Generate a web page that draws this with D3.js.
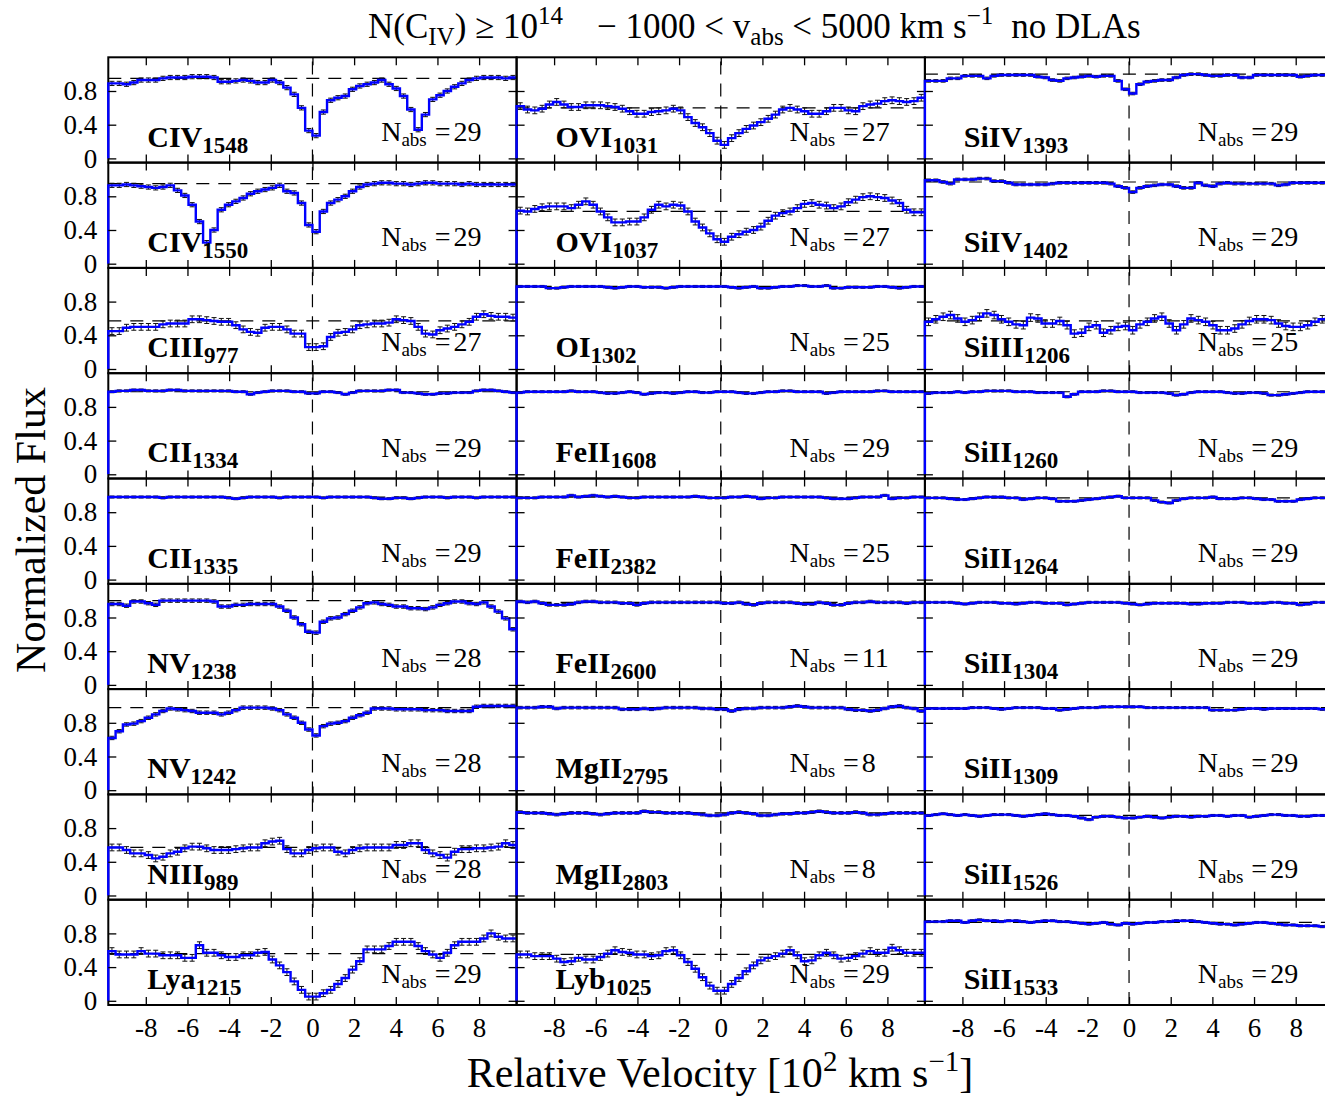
<!DOCTYPE html>
<html>
<head>
<meta charset="utf-8">
<title>Composite absorption profiles</title>
<script src="https://cdn.jsdelivr.net/npm/d3@7/dist/d3.min.js"></script>
<style>
  html, body { margin: 0; padding: 0; background: #ffffff; }
  svg { display: block; }
  text { font-family: "Liberation Serif", "Times New Roman", serif; fill: #000; }
</style>
</head>
<body>
<svg id="chart" width="1325" height="1097"></svg>
<script>
// Velocity bin edges of the stacked spectra, in units of 100 km/s (35 km/s bins)
const binEdges = [-9.8,-9.45,-9.1,-8.75,-8.4,-8.05,-7.7,-7.35,-7.0,-6.65,-6.3,-5.95,-5.6,-5.25,-4.9,-4.55,-4.2,-3.85,-3.5,-3.15,-2.8,-2.45,-2.1,-1.75,-1.4,-1.05,-0.7,-0.35,0,0.35,0.7,1.05,1.4,1.75,2.1,2.45,2.8,3.15,3.5,3.85,4.2,4.55,4.9,5.25,5.6,5.95,6.3,6.65,7.0,7.35,7.7,8.05,8.4,8.75,9.1,9.45,9.8];

// Mean normalised flux in each of the 56 bins, one array per transition
const c4_1548 = [0.89,0.89,0.88,0.90,0.93,0.93,0.93,0.95,0.96,0.96, 0.96,0.97,0.97,0.97,0.96,0.91,0.91,0.92,0.93,0.92, 0.90,0.90,0.93,0.90,0.84,0.76,0.60,0.33,0.27,0.55, 0.69,0.72,0.74,0.82,0.86,0.88,0.90,0.93,0.88,0.83, 0.74,0.58,0.34,0.52,0.70,0.75,0.80,0.85,0.89,0.93, 0.95,0.96,0.96,0.96,0.95,0.96];
const c4_1550 = [0.93,0.93,0.94,0.93,0.92,0.91,0.90,0.91,0.93,0.87, 0.81,0.70,0.50,0.25,0.40,0.64,0.70,0.74,0.78,0.83, 0.86,0.88,0.90,0.93,0.86,0.84,0.72,0.46,0.38,0.62, 0.72,0.76,0.80,0.86,0.91,0.94,0.95,0.96,0.96,0.95, 0.95,0.94,0.95,0.96,0.96,0.95,0.95,0.95,0.94,0.95, 0.94,0.94,0.94,0.94,0.94,0.94];
const c3_977 = [0.45,0.45,0.49,0.50,0.50,0.50,0.50,0.53,0.54,0.54, 0.54,0.59,0.59,0.58,0.57,0.56,0.56,0.52,0.47,0.44, 0.43,0.49,0.50,0.50,0.47,0.42,0.42,0.26,0.26,0.27, 0.38,0.43,0.44,0.47,0.52,0.53,0.54,0.54,0.55,0.59, 0.58,0.57,0.50,0.42,0.41,0.46,0.48,0.50,0.53,0.56, 0.62,0.65,0.63,0.62,0.62,0.61];
const c2_1334 = [0.98,0.99,0.99,1.00,1.00,0.99,0.99,0.99,1.00,1.00, 0.99,0.99,0.99,0.99,0.99,0.99,0.99,0.98,0.98,0.95, 0.97,0.98,0.99,0.99,0.99,0.98,0.98,0.96,0.96,0.98, 0.98,0.97,0.95,0.97,0.99,0.99,0.99,0.99,1.00,1.00, 0.97,0.97,0.96,0.95,0.95,0.96,0.96,0.97,0.97,0.97, 0.99,1.00,1.00,0.99,0.98,0.97];
const c2_1335 = [0.98,0.98,0.98,0.98,0.98,0.98,0.98,0.97,0.98,0.98, 0.98,0.98,0.98,0.98,0.98,0.98,0.97,0.96,0.97,0.98, 0.98,0.98,0.98,0.97,0.98,0.98,0.98,0.98,0.98,0.97, 0.98,0.98,0.98,0.98,0.98,0.98,0.97,0.96,0.96,0.97, 0.97,0.96,0.97,0.98,0.98,0.98,0.97,0.98,0.98,0.98, 0.97,0.98,0.98,0.98,0.98,0.98];
const n5_1238 = [0.96,0.96,0.94,0.99,0.99,0.97,0.95,1.00,1.00,1.00, 1.00,1.00,1.00,1.00,0.99,0.93,0.93,0.95,0.95,0.96, 0.96,0.96,0.96,0.93,0.88,0.80,0.72,0.63,0.62,0.75, 0.79,0.80,0.84,0.88,0.92,0.97,0.98,0.96,0.95,0.93, 0.93,0.91,0.91,0.90,0.92,0.95,0.97,0.99,0.99,0.97, 0.96,0.98,0.93,0.87,0.79,0.66];
const n5_1242 = [0.62,0.70,0.78,0.79,0.82,0.86,0.90,0.94,0.97,0.96, 0.95,0.94,0.92,0.92,0.92,0.90,0.92,0.95,0.98,0.98, 0.98,0.98,0.97,0.95,0.90,0.86,0.80,0.72,0.65,0.76, 0.79,0.80,0.82,0.86,0.89,0.92,0.97,0.97,0.97,0.96, 0.96,0.96,0.96,0.95,0.95,0.95,0.94,0.94,0.94,0.94, 0.99,1.00,1.00,1.00,1.00,1.00];
const n3_989 = [0.57,0.57,0.54,0.50,0.50,0.48,0.44,0.46,0.50,0.52, 0.56,0.58,0.58,0.56,0.54,0.54,0.54,0.55,0.56,0.57, 0.57,0.62,0.64,0.65,0.55,0.50,0.50,0.54,0.56,0.57, 0.57,0.52,0.50,0.54,0.56,0.57,0.57,0.57,0.57,0.60, 0.60,0.62,0.62,0.54,0.50,0.48,0.45,0.52,0.55,0.55, 0.56,0.56,0.57,0.58,0.62,0.60];
const lya_1215 = [0.59,0.55,0.55,0.55,0.59,0.56,0.56,0.54,0.54,0.54, 0.51,0.51,0.66,0.57,0.57,0.54,0.52,0.52,0.54,0.54, 0.57,0.58,0.49,0.42,0.34,0.23,0.13,0.05,0.05,0.09, 0.13,0.20,0.27,0.37,0.47,0.61,0.61,0.61,0.65,0.70, 0.70,0.70,0.65,0.59,0.55,0.51,0.57,0.66,0.70,0.70, 0.70,0.74,0.80,0.76,0.74,0.74];
const o6_1031 = [0.62,0.58,0.57,0.59,0.64,0.67,0.64,0.61,0.61,0.63, 0.63,0.63,0.62,0.61,0.59,0.56,0.53,0.53,0.55,0.56, 0.57,0.59,0.57,0.49,0.42,0.37,0.30,0.21,0.16,0.24, 0.30,0.35,0.39,0.43,0.47,0.52,0.58,0.60,0.58,0.56, 0.53,0.53,0.56,0.60,0.60,0.57,0.56,0.62,0.64,0.65, 0.68,0.69,0.68,0.67,0.68,0.72];
const o6_1037 = [0.63,0.62,0.65,0.67,0.68,0.68,0.68,0.66,0.70,0.74, 0.70,0.62,0.55,0.49,0.49,0.50,0.50,0.55,0.64,0.70, 0.68,0.70,0.69,0.62,0.50,0.43,0.36,0.29,0.26,0.32, 0.35,0.38,0.40,0.44,0.51,0.57,0.60,0.62,0.66,0.71, 0.72,0.70,0.69,0.66,0.68,0.73,0.76,0.79,0.80,0.79, 0.78,0.75,0.72,0.64,0.61,0.61];
const o1_1302 = [0.98,0.98,0.98,0.98,0.96,0.96,0.97,0.98,0.98,0.98, 0.98,0.98,0.97,0.96,0.97,0.98,0.98,0.97,0.97,0.97, 0.96,0.97,0.98,0.98,0.98,0.98,0.98,0.98,0.98,0.97, 0.96,0.97,0.98,0.96,0.96,0.97,0.98,0.98,0.99,0.99, 0.98,0.98,0.99,0.96,0.96,0.97,0.97,0.97,0.97,0.98, 0.98,0.97,0.96,0.97,0.98,0.98];
const fe2_1608 = [0.97,0.98,0.98,0.98,0.98,0.98,0.98,0.99,0.98,0.98, 0.98,0.97,0.96,0.96,0.97,0.98,0.97,0.95,0.96,0.97, 0.97,0.96,0.97,0.98,0.98,0.97,0.97,0.98,0.98,0.98, 0.97,0.96,0.96,0.97,0.98,0.98,0.99,0.99,0.98,0.98, 0.98,0.98,0.96,0.97,0.98,0.98,0.98,0.98,0.98,0.99, 0.99,0.98,0.98,0.98,0.98,0.98];
const fe2_2382 = [0.97,0.97,0.97,0.98,0.98,0.98,0.98,1.00,0.98,0.99, 1.00,0.99,0.98,0.99,0.98,0.97,0.97,0.98,0.98,0.98, 0.98,0.98,0.98,0.98,0.99,0.98,0.97,0.97,0.97,0.98, 0.98,0.99,0.98,0.96,0.97,0.97,0.98,0.98,0.98,0.98, 0.98,0.98,0.97,0.96,0.96,0.96,0.97,0.98,0.98,0.98, 1.00,0.96,0.97,0.97,0.98,0.98];
const fe2_2600 = [0.99,0.98,0.99,0.97,0.95,0.95,0.95,0.96,0.98,0.99, 0.99,0.98,0.98,0.98,0.97,0.97,0.95,0.97,0.98,0.98, 0.98,0.98,0.98,0.98,0.98,0.98,0.98,0.98,0.97,0.97, 0.98,0.96,0.95,0.97,0.98,0.98,0.98,0.98,0.97,0.96, 0.96,0.98,0.97,0.95,0.95,0.97,0.98,0.98,0.99,0.98, 0.98,0.98,0.98,0.97,0.98,0.98];
const mg2_2795 = [0.98,0.98,0.98,0.99,0.99,0.97,0.98,0.98,0.98,0.98, 0.98,0.98,0.98,0.98,0.96,0.96,0.96,0.97,0.96,0.97, 0.98,0.98,0.98,0.98,0.98,0.97,0.97,0.96,0.96,0.94, 0.96,0.97,0.97,0.98,0.98,0.98,0.98,0.99,1.00,0.99, 0.98,0.98,0.98,0.98,0.98,0.96,0.95,0.95,0.94,0.95, 0.97,0.99,1.00,0.98,0.97,0.94];
const mg2_2803 = [0.99,0.98,0.98,0.98,0.97,0.96,0.97,0.98,0.98,0.98, 0.97,0.96,0.97,0.98,0.98,0.98,0.98,1.00,0.99,0.99, 0.98,0.98,0.98,0.98,0.97,0.96,0.95,0.95,0.96,0.98, 0.99,0.98,0.97,0.95,0.95,0.96,0.97,0.97,0.98,0.98, 0.99,1.00,0.99,0.98,0.98,0.98,0.99,0.98,0.96,0.96, 0.97,0.98,0.98,0.98,0.98,0.98];
const lyb_1025 = [0.55,0.55,0.53,0.53,0.53,0.50,0.46,0.47,0.51,0.49, 0.49,0.52,0.56,0.60,0.58,0.57,0.55,0.55,0.53,0.54, 0.59,0.60,0.54,0.46,0.38,0.28,0.18,0.12,0.12,0.20, 0.27,0.35,0.42,0.48,0.51,0.53,0.56,0.60,0.54,0.47, 0.48,0.54,0.57,0.54,0.50,0.51,0.53,0.56,0.59,0.57, 0.57,0.63,0.60,0.57,0.57,0.57];
const si4_1393 = [0.92,0.92,0.92,0.95,0.95,0.98,0.98,0.98,0.95,0.98, 0.99,0.99,0.99,0.99,0.99,0.97,0.96,0.93,0.92,0.95, 0.96,0.97,0.98,0.97,0.98,0.98,0.92,0.82,0.77,0.88, 0.91,0.92,0.93,0.93,0.96,0.99,1.00,1.00,0.99,0.98, 0.98,0.99,0.99,0.96,0.96,0.99,0.99,0.99,0.99,0.99, 0.99,0.97,0.98,0.99,0.99,0.99];
const si4_1402 = [0.99,0.99,0.97,0.95,1.00,1.00,1.00,1.01,1.01,0.98, 0.98,0.96,0.94,0.94,0.94,0.94,0.94,0.95,0.96,0.96, 0.96,0.96,0.96,0.96,0.96,0.95,0.92,0.90,0.85,0.90, 0.92,0.93,0.94,0.94,0.92,0.90,0.90,0.96,0.93,0.92, 0.95,0.96,0.95,0.95,0.95,0.95,0.95,0.95,0.93,0.94, 0.96,0.96,0.96,0.96,0.96,0.96];
const si3_1206 = [0.56,0.59,0.62,0.64,0.60,0.56,0.58,0.62,0.66,0.64, 0.59,0.56,0.53,0.52,0.61,0.60,0.54,0.54,0.57,0.52, 0.42,0.43,0.50,0.52,0.43,0.46,0.50,0.51,0.46,0.53, 0.56,0.60,0.62,0.54,0.46,0.53,0.60,0.58,0.56,0.52, 0.46,0.46,0.48,0.53,0.57,0.59,0.59,0.58,0.54,0.51, 0.50,0.50,0.52,0.56,0.59,0.60];
const si2_1260 = [0.96,0.97,0.97,0.97,0.98,0.97,0.98,0.98,0.99,0.99, 0.99,0.99,0.98,0.98,0.98,0.97,0.97,0.97,0.97,0.92, 0.95,0.98,0.98,0.98,0.99,0.99,0.98,0.98,0.98,0.97, 0.97,0.97,0.97,0.96,0.94,0.95,0.97,0.98,0.98,0.98, 0.98,0.97,0.96,0.96,0.97,0.97,0.96,0.94,0.94,0.95, 0.96,0.97,0.98,0.98,0.98,0.98];
const si2_1264 = [0.97,0.97,0.97,0.96,0.95,0.95,0.96,0.97,0.98,0.98, 0.98,0.97,0.97,0.95,0.96,0.97,0.97,0.96,0.93,0.93, 0.93,0.94,0.95,0.96,0.97,0.98,0.99,0.97,0.97,0.97, 0.97,0.94,0.92,0.91,0.94,0.96,0.97,0.97,0.97,0.98, 0.96,0.96,0.96,0.97,0.97,0.96,0.95,0.95,0.93,0.93, 0.93,0.95,0.96,0.97,0.97,0.97];
const si2_1304 = [0.98,0.98,0.98,0.98,0.97,0.96,0.97,0.98,0.98,0.98, 0.97,0.97,0.96,0.97,0.98,0.98,0.97,0.97,0.97,0.95, 0.96,0.97,0.98,0.98,0.98,0.98,0.98,0.97,0.96,0.95, 0.96,0.97,0.97,0.97,0.97,0.97,0.96,0.96,0.97,0.97, 0.97,0.98,0.98,0.98,0.97,0.97,0.97,0.98,0.98,0.97, 0.97,0.95,0.96,0.98,0.98,0.98];
const si2_1309 = [0.97,0.97,0.97,0.97,0.97,0.97,0.98,0.98,0.98,0.97, 0.96,0.97,0.98,0.98,0.98,0.98,0.97,0.97,0.95,0.96, 0.97,0.98,0.98,0.98,0.99,0.99,0.99,0.99,0.99,0.99, 0.98,0.98,0.98,0.98,0.98,0.98,0.98,0.98,0.98,0.95, 0.95,0.95,0.95,0.96,0.97,0.97,0.96,0.97,0.97,0.97, 0.97,0.97,0.97,0.97,0.96,0.95];
const si2_1526 = [0.95,0.96,0.97,0.96,0.95,0.96,0.95,0.94,0.95,0.96, 0.96,0.96,0.95,0.94,0.95,0.96,0.97,0.96,0.95,0.95, 0.94,0.92,0.90,0.93,0.94,0.94,0.93,0.92,0.92,0.93, 0.94,0.93,0.92,0.93,0.94,0.94,0.93,0.94,0.94,0.95, 0.95,0.94,0.95,0.95,0.93,0.94,0.95,0.96,0.96,0.95, 0.95,0.94,0.94,0.95,0.95,0.95];
const si2_1533 = [0.94,0.94,0.94,0.95,0.95,0.93,0.95,0.96,0.95,0.95, 0.94,0.95,0.95,0.94,0.93,0.94,0.95,0.95,0.94,0.94, 0.93,0.92,0.91,0.92,0.93,0.91,0.90,0.92,0.91,0.92, 0.93,0.93,0.94,0.94,0.95,0.95,0.95,0.94,0.93,0.92, 0.91,0.91,0.90,0.91,0.92,0.93,0.93,0.92,0.91,0.90, 0.90,0.89,0.89,0.89,0.88,0.89];

// Panels are listed column by column, top to bottom
const fluxSeries = [c4_1548, c4_1550, c3_977, c2_1334, c2_1335, n5_1238, n5_1242, n3_989, lya_1215,
                    o6_1031, o6_1037, o1_1302, fe2_1608, fe2_2382, fe2_2600, mg2_2795, mg2_2803, lyb_1025,
                    si4_1393, si4_1402, si3_1206, si2_1260, si2_1264, si2_1304, si2_1309, si2_1526, si2_1533];
const ions = ["CIV","CIV","CIII","CII","CII","NV","NV","NIII","Lya",
              "OVI","OVI","OI","FeII","FeII","FeII","MgII","MgII","Lyb",
              "SiIV","SiIV","SiIII","SiII","SiII","SiII","SiII","SiII","SiII"];
const wavelengths = ["1548","1550","977","1334","1335","1238","1242","989","1215",
                     "1031","1037","1302","1608","2382","2600","2795","2803","1025",
                     "1393","1402","1206","1260","1264","1304","1309","1526","1533"];
const nAbs = [29,29,27,29,29,28,28,28,29, 27,27,25,29,25,11,8,8,29, 29,29,25,29,29,29,29,29,29];
// Continuum reference level (dashed) and typical 1-sigma error of each stack
const continuum = [0.95,0.95,0.57,0.98,0.98,1.00,0.98,0.57,0.56, 0.60,0.62,0.98,0.98,0.98,0.98,0.98,0.98,0.55, 1.00,0.97,0.57,0.98,0.97,0.98,0.98,0.95,0.93];
const fluxErrors = [0.025,0.025,0.04,0.012,0.012,0.02,0.02,0.04,0.04, 0.04,0.04,0.012,0.012,0.012,0.015,0.015,0.015,0.04, 0.015,0.015,0.045,0.012,0.012,0.012,0.012,0.012,0.012];

const xTicks = [-8,-6,-4,-2,0,2,4,6,8];
const xTickLabels = ["-8","-6","-4","-2","0","2","4","6","8"];
const yTicks = [0, 0.4, 0.8];
const yTickLabels = ["0","0.4","0.8"];

// ---- layout ----
const svg = d3.select("#chart");
const gridLeft = 108.3, gridTop = 57.3, panelW = 408.3, panelH = 105.3, nRows = 9;
const velRange = [binEdges[0], binEdges[binEdges.length - 1]];
const fluxRange = [-0.05, 1.2];
const serif = '"Liberation Serif", "Times New Roman", serif';

function styleAxis(sel, fontSize) {
  sel.select(".domain").remove();
  sel.selectAll(".tick line").attr("stroke", "#000").attr("stroke-width", 1.3);
  sel.attr("font-family", serif).attr("font-size", fontSize);
  sel.selectAll(".tick text").attr("fill", "#000");
}

fluxSeries.forEach((flux, i) => {
  const col = Math.floor(i / nRows), row = i % nRows;
  const x0 = gridLeft + col * panelW, y0 = gridTop + row * panelH;
  const x = d3.scaleLinear().domain(velRange).range([x0, x0 + panelW]);
  const y = d3.scaleLinear().domain(fluxRange).range([y0 + panelH, y0]);
  const g = svg.append("g").attr("class", "panel");
  const err = fluxErrors[i];

  // panel frame
  g.append("rect")
    .attr("x", x(velRange[0])).attr("y", y(fluxRange[1]))
    .attr("width", x(velRange[1]) - x(velRange[0]))
    .attr("height", y(fluxRange[0]) - y(fluxRange[1]))
    .attr("fill", "none").attr("stroke", "#000").attr("stroke-width", 2);

  // dashed guides: continuum level and zero velocity
  g.append("line")
    .attr("x1", x(velRange[0])).attr("x2", x(velRange[1]))
    .attr("y1", y(continuum[i])).attr("y2", y(continuum[i]))
    .attr("stroke", "#000").attr("stroke-width", 1.2).attr("stroke-dasharray", "13,9");
  g.append("line")
    .attr("x1", x(0)).attr("x2", x(0))
    .attr("y1", y(fluxRange[0])).attr("y2", y(fluxRange[1]))
    .attr("stroke", "#000").attr("stroke-width", 1.2).attr("stroke-dasharray", "13,9");

  // error bars at bin centres
  const bins = flux.map((f, k) => ({ v: (binEdges[k] + binEdges[k + 1]) / 2, f }));
  const eb = g.append("g").attr("stroke", "#111").attr("stroke-width", 1);
  eb.selectAll("line.bar").data(bins).join("line").attr("class", "bar")
    .attr("x1", d => x(d.v)).attr("x2", d => x(d.v))
    .attr("y1", d => y(d.f - err)).attr("y2", d => y(d.f + err));
  [-1, 1].forEach(s => {
    eb.selectAll("line.cap" + (s > 0 ? "hi" : "lo")).data(bins).join("line")
      .attr("class", "cap" + (s > 0 ? "hi" : "lo"))
      .attr("x1", d => x(d.v) - 2.5).attr("x2", d => x(d.v) + 2.5)
      .attr("y1", d => y(d.f + s * err)).attr("y2", d => y(d.f + s * err));
  });

  // histogram-style flux outline
  const pts = [[binEdges[0], 0]]
    .concat(flux.map((f, k) => [binEdges[k], f]))
    .concat([[binEdges[flux.length], flux[flux.length - 1]]]);
  const stepLine = d3.line().x(d => x(d[0])).y(d => y(d[1])).curve(d3.curveStepAfter);
  g.append("path").attr("d", stepLine(pts))
    .attr("fill", "none").attr("stroke", "#0000ff").attr("stroke-width", 2.4)
    .attr("stroke-linejoin", "miter");

  // inward ticks on all four sides
  const bottom = d3.axisBottom(x).tickValues(xTicks).tickSizeInner(-8).tickSizeOuter(0).tickPadding(13)
    .tickFormat(row === nRows - 1 ? (d, k) => xTickLabels[k] : () => "");
  g.append("g").attr("transform", `translate(0,${y(fluxRange[0])})`).call(bottom).call(s => styleAxis(s, 27));
  const top = d3.axisTop(x).tickValues(xTicks).tickSizeInner(-8).tickSizeOuter(0).tickFormat(() => "");
  g.append("g").attr("transform", `translate(0,${y(fluxRange[1])})`).call(top).call(s => styleAxis(s, 27));
  const left = d3.axisLeft(y).tickValues(yTicks).tickSizeInner(-8).tickSizeOuter(0).tickPadding(11)
    .tickFormat(col === 0 ? (d, k) => yTickLabels[k] : () => "");
  g.append("g").attr("transform", `translate(${x(velRange[0])},0)`).call(left).call(s => styleAxis(s, 27));
  const right = d3.axisRight(y).tickValues(yTicks).tickSizeInner(-8).tickSizeOuter(0).tickFormat(() => "");
  g.append("g").attr("transform", `translate(${x(velRange[1])},0)`).call(right).call(s => styleAxis(s, 27));

  // transition label
  const lab = g.append("text").attr("x", x(-7.93)).attr("y", y(0.14))
    .attr("font-weight", "bold").attr("font-size", 30);
  lab.append("tspan").text(ions[i]);
  lab.append("tspan").attr("font-size", 23).attr("dy", 6).text(wavelengths[i]);

  // number of absorbers in the stack
  const nl = g.append("text").attr("x", x(3.3)).attr("y", y(0.21)).attr("font-size", 28);
  nl.append("tspan").text("N");
  nl.append("tspan").attr("font-size", 19).attr("dy", 5).text("abs");
  nl.append("tspan").attr("dy", -5).attr("dx", 8).text("=");
  nl.append("tspan").attr("dx", 3).text(nAbs[i]);
});

// title
const title = svg.append("text").attr("x", 368).attr("y", 38).attr("font-size", 35);
title.append("tspan").text("N(C");
title.append("tspan").attr("font-size", 25).attr("dy", 7).text("IV");
title.append("tspan").attr("dy", -7).text(") \u2265 10");
title.append("tspan").attr("font-size", 25).attr("dy", -14).text("14");
title.append("tspan").attr("dy", 14).attr("dx", 34).text("\u2212 1000 < v");
title.append("tspan").attr("font-size", 25).attr("dy", 7).text("abs");
title.append("tspan").attr("dy", -7).text(" < 5000 km s");
title.append("tspan").attr("font-size", 25).attr("dy", -14).text("\u22121");
title.append("tspan").attr("dy", 14).attr("dx", 18).text("no DLAs");

// x-axis title
const xt = svg.append("text").attr("x", 720).attr("y", 1087).attr("text-anchor", "middle").attr("font-size", 42);
xt.append("tspan").text("Relative Velocity [10");
xt.append("tspan").attr("font-size", 29).attr("dy", -16).text("2");
xt.append("tspan").attr("dy", 16).text(" km s");
xt.append("tspan").attr("font-size", 29).attr("dy", -16).text("\u22121");
xt.append("tspan").attr("dy", 16).text("]");

// y-axis title
svg.append("text").attr("transform", "translate(45,530) rotate(-90)")
  .attr("text-anchor", "middle").attr("font-size", 42).text("Normalized Flux");
</script>
</body>
</html>
